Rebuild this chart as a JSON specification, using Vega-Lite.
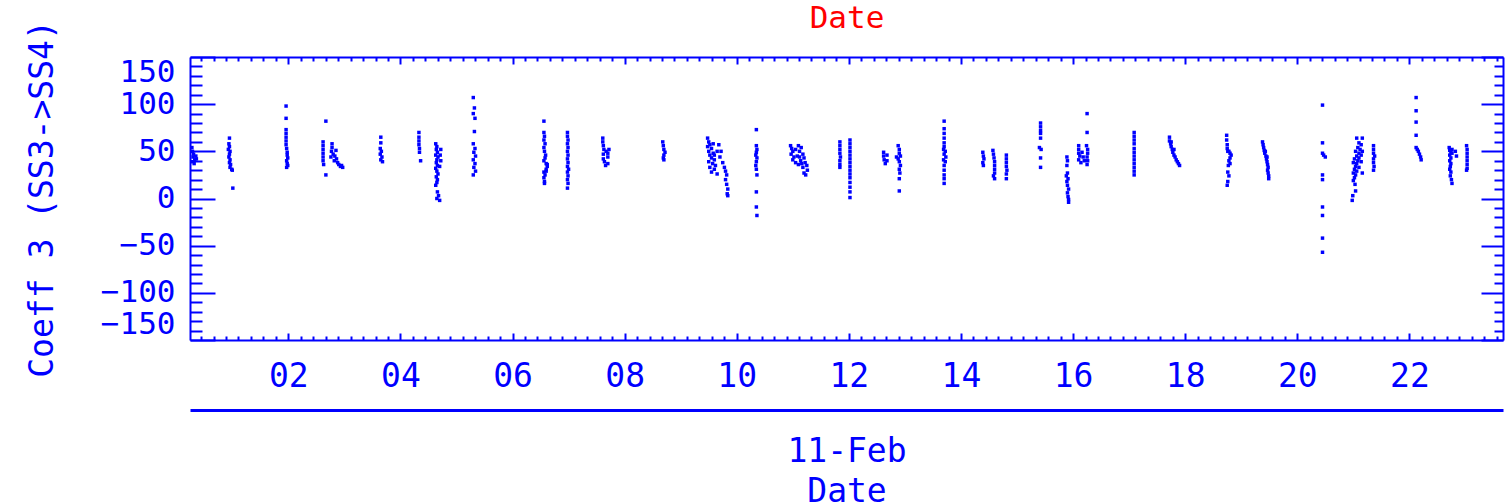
{
"$schema": "https://vega.github.io/schema/vega-lite/v6.json",
"autosize": "none",
"padding": {"left": 190, "top": 57, "right": 3, "bottom": 163},
"width": 1313,
"height": 283,
"datasets": {"pts": [
{"h":0.28,"v":54},{"h":0.29,"v":50},{"h":0.31,"v":47},{"h":0.30,"v":44},{"h":0.33,"v":41},{"h":0.29,"v":39},{"h":0.35,"v":45},{"h":0.36,"v":42},{"h":0.32,"v":37},
{"h":0.95,"v":64},{"h":0.94,"v":58},{"h":0.95,"v":55},{"h":0.93,"v":52},{"h":0.96,"v":50},{"h":0.95,"v":47},{"h":0.94,"v":44},{"h":0.96,"v":41},{"h":0.95,"v":38},{"h":0.97,"v":36},{"h":0.96,"v":33},{"h":0.99,"v":31},{"h":1.00,"v":30},{"h":1.01,"v":11},
{"h":1.96,"v":98},{"h":1.96,"v":85},{"h":1.96,"v":73},{"h":1.96,"v":69},{"h":1.96,"v":65},{"h":1.96,"v":61},{"h":1.96,"v":57},{"h":1.97,"v":53},{"h":1.98,"v":49},{"h":1.98,"v":46},{"h":1.99,"v":43},{"h":1.97,"v":40},{"h":1.98,"v":37},{"h":1.99,"v":35},{"h":1.97,"v":33},
{"h":2.67,"v":82},{"h":2.62,"v":60},{"h":2.62,"v":56},{"h":2.62,"v":52},{"h":2.62,"v":48},{"h":2.62,"v":44},{"h":2.62,"v":40},{"h":2.63,"v":36},{"h":2.78,"v":58},{"h":2.78,"v":54},{"h":2.77,"v":50},{"h":2.80,"v":47},{"h":2.83,"v":45},{"h":2.86,"v":42},{"h":2.82,"v":40},{"h":2.88,"v":38},{"h":2.90,"v":36},{"h":2.93,"v":34},{"h":2.95,"v":35},{"h":2.97,"v":33},{"h":2.76,"v":44},{"h":2.85,"v":51},{"h":2.67,"v":25},
{"h":3.65,"v":65},{"h":3.65,"v":59},{"h":3.64,"v":53},{"h":3.66,"v":50},{"h":3.64,"v":47},{"h":3.67,"v":44},{"h":3.65,"v":41},{"h":3.68,"v":39},
{"h":4.33,"v":70},{"h":4.33,"v":65},{"h":4.33,"v":61},{"h":4.33,"v":57},{"h":4.34,"v":53},{"h":4.34,"v":49},{"h":4.36,"v":40},
{"h":4.63,"v":58},{"h":4.65,"v":55},{"h":4.64,"v":52},{"h":4.66,"v":49},{"h":4.63,"v":46},{"h":4.67,"v":44},{"h":4.65,"v":41},{"h":4.64,"v":38},{"h":4.66,"v":35},{"h":4.63,"v":32},{"h":4.65,"v":29},{"h":4.67,"v":26},{"h":4.64,"v":23},{"h":4.66,"v":20},{"h":4.65,"v":17},{"h":4.63,"v":14},{"h":4.66,"v":7},{"h":4.68,"v":3},{"h":4.65,"v":0},{"h":4.70,"v":-2},{"h":4.72,"v":52},{"h":4.71,"v":46},{"h":4.72,"v":40},{"h":4.70,"v":34},
{"h":5.30,"v":107},{"h":5.32,"v":96},{"h":5.30,"v":90},{"h":5.33,"v":85},{"h":5.32,"v":71},{"h":5.30,"v":58},{"h":5.33,"v":53},{"h":5.31,"v":49},{"h":5.34,"v":45},{"h":5.30,"v":41},{"h":5.33,"v":37},{"h":5.31,"v":33},{"h":5.34,"v":29},{"h":5.30,"v":25},
{"h":6.56,"v":82},{"h":6.56,"v":70},{"h":6.57,"v":66},{"h":6.56,"v":62},{"h":6.58,"v":58},{"h":6.56,"v":54},{"h":6.57,"v":50},{"h":6.59,"v":46},{"h":6.58,"v":43},{"h":6.56,"v":40},{"h":6.60,"v":37},{"h":6.62,"v":34},{"h":6.60,"v":31},{"h":6.56,"v":28},{"h":6.58,"v":25},{"h":6.56,"v":22},{"h":6.57,"v":18},{"h":6.60,"v":29},{"h":6.62,"v":36},{"h":6.57,"v":16},
{"h":6.98,"v":70},{"h":6.98,"v":66},{"h":6.99,"v":62},{"h":6.98,"v":58},{"h":6.99,"v":54},{"h":6.98,"v":50},{"h":6.99,"v":46},{"h":6.98,"v":42},{"h":6.99,"v":38},{"h":6.98,"v":34},{"h":7.00,"v":31},{"h":6.98,"v":28},{"h":6.99,"v":24},{"h":6.98,"v":20},{"h":6.99,"v":16},{"h":6.98,"v":11},
{"h":7.61,"v":64},{"h":7.61,"v":60},{"h":7.62,"v":56},{"h":7.63,"v":52},{"h":7.67,"v":50},{"h":7.70,"v":48},{"h":7.72,"v":52},{"h":7.70,"v":44},{"h":7.62,"v":47},{"h":7.62,"v":42},{"h":7.64,"v":39},{"h":7.66,"v":35},{"h":7.70,"v":37},
{"h":8.68,"v":60},{"h":8.69,"v":56},{"h":8.70,"v":52},{"h":8.72,"v":49},{"h":8.70,"v":46},{"h":8.69,"v":43},{"h":8.70,"v":41},
{"h":9.48,"v":64},{"h":9.50,"v":60},{"h":9.52,"v":57},{"h":9.48,"v":55},{"h":9.55,"v":53},{"h":9.50,"v":50},{"h":9.58,"v":48},{"h":9.52,"v":46},{"h":9.55,"v":43},{"h":9.60,"v":41},{"h":9.50,"v":39},{"h":9.57,"v":37},{"h":9.62,"v":35},{"h":9.52,"v":33},{"h":9.60,"v":31},{"h":9.55,"v":28},{"h":9.65,"v":26},{"h":9.68,"v":57},{"h":9.72,"v":50},{"h":9.70,"v":44},{"h":9.75,"v":38},{"h":9.78,"v":33},{"h":9.80,"v":29},{"h":9.82,"v":25},{"h":9.80,"v":20},{"h":9.82,"v":15},{"h":9.84,"v":10},{"h":9.83,"v":5},{"h":9.84,"v":3},{"h":9.60,"v":46},{"h":9.65,"v":50},{"h":9.58,"v":58},
{"h":10.35,"v":73},{"h":10.35,"v":56},{"h":10.36,"v":52},{"h":10.35,"v":49},{"h":10.34,"v":46},{"h":10.36,"v":43},{"h":10.35,"v":39},{"h":10.34,"v":35},{"h":10.35,"v":31},{"h":10.36,"v":25},{"h":10.35,"v":7},{"h":10.35,"v":-9},{"h":10.36,"v":-18},
{"h":10.96,"v":56},{"h":10.98,"v":53},{"h":11.00,"v":50},{"h":10.97,"v":47},{"h":11.02,"v":44},{"h":11.05,"v":52},{"h":11.10,"v":56},{"h":11.15,"v":54},{"h":11.12,"v":50},{"h":11.18,"v":47},{"h":11.08,"v":45},{"h":11.20,"v":43},{"h":11.14,"v":40},{"h":11.22,"v":38},{"h":11.10,"v":36},{"h":11.25,"v":35},{"h":11.18,"v":33},{"h":11.26,"v":30},{"h":11.20,"v":27},{"h":11.23,"v":25},{"h":11.00,"v":41},{"h":11.05,"v":38},{"h":11.12,"v":44},{"h":11.16,"v":37},
{"h":11.84,"v":60},{"h":11.84,"v":56},{"h":11.84,"v":52},{"h":11.84,"v":48},{"h":11.85,"v":44},{"h":11.84,"v":40},{"h":11.84,"v":36},{"h":11.84,"v":33},{"h":12.02,"v":62},{"h":12.02,"v":58},{"h":12.02,"v":54},{"h":12.02,"v":50},{"h":12.02,"v":46},{"h":12.02,"v":42},{"h":12.02,"v":38},{"h":12.02,"v":34},{"h":12.02,"v":30},{"h":12.02,"v":26},{"h":12.02,"v":22},{"h":12.02,"v":17},{"h":12.02,"v":12},{"h":12.02,"v":7},{"h":12.02,"v":1},
{"h":12.62,"v":49},{"h":12.62,"v":45},{"h":12.63,"v":41},{"h":12.65,"v":37},{"h":12.68,"v":46},{"h":12.68,"v":40},{"h":12.88,"v":56},{"h":12.90,"v":52},{"h":12.90,"v":48},{"h":12.92,"v":45},{"h":12.88,"v":42},{"h":12.90,"v":39},{"h":12.92,"v":35},{"h":12.90,"v":31},{"h":12.91,"v":27},{"h":12.90,"v":21},{"h":12.90,"v":8},{"h":12.85,"v":44},
{"h":13.70,"v":82},{"h":13.70,"v":74},{"h":13.70,"v":69},{"h":13.70,"v":64},{"h":13.70,"v":59},{"h":13.70,"v":55},{"h":13.69,"v":52},{"h":13.72,"v":50},{"h":13.70,"v":47},{"h":13.73,"v":44},{"h":13.69,"v":41},{"h":13.72,"v":39},{"h":13.70,"v":35},{"h":13.70,"v":30},{"h":13.70,"v":25},{"h":13.70,"v":21},{"h":13.70,"v":16},
{"h":14.39,"v":49},{"h":14.40,"v":45},{"h":14.41,"v":42},{"h":14.39,"v":38},{"h":14.40,"v":35},{"h":14.57,"v":51},{"h":14.58,"v":47},{"h":14.59,"v":43},{"h":14.60,"v":39},{"h":14.60,"v":35},{"h":14.60,"v":31},{"h":14.60,"v":27},{"h":14.58,"v":24},{"h":14.60,"v":21},{"h":14.81,"v":46},{"h":14.81,"v":42},{"h":14.81,"v":38},{"h":14.81,"v":34},{"h":14.82,"v":30},{"h":14.81,"v":26},{"h":14.81,"v":21},
{"h":15.42,"v":80},{"h":15.42,"v":76},{"h":15.42,"v":72},{"h":15.42,"v":69},{"h":15.42,"v":64},{"h":15.40,"v":54},{"h":15.43,"v":52},{"h":15.42,"v":43},{"h":15.42,"v":33},
{"h":15.89,"v":44},{"h":15.90,"v":40},{"h":15.89,"v":35},{"h":15.90,"v":27},{"h":15.88,"v":24},{"h":15.91,"v":21},{"h":15.89,"v":18},{"h":15.90,"v":14},{"h":15.92,"v":10},{"h":15.90,"v":6},{"h":15.91,"v":2},{"h":15.92,"v":-1},{"h":15.92,"v":-4},
{"h":16.25,"v":90},{"h":16.25,"v":70},{"h":16.10,"v":56},{"h":16.10,"v":52},{"h":16.10,"v":48},{"h":16.12,"v":45},{"h":16.10,"v":41},{"h":16.14,"v":38},{"h":16.18,"v":44},{"h":16.20,"v":40},{"h":16.16,"v":49},{"h":16.24,"v":56},{"h":16.26,"v":52},{"h":16.26,"v":48},{"h":16.25,"v":44},{"h":16.26,"v":40},{"h":16.25,"v":36},
{"h":17.09,"v":70},{"h":17.09,"v":66},{"h":17.09,"v":62},{"h":17.09,"v":58},{"h":17.09,"v":53},{"h":17.09,"v":49},{"h":17.09,"v":45},{"h":17.09,"v":41},{"h":17.09,"v":37},{"h":17.09,"v":33},{"h":17.09,"v":29},{"h":17.09,"v":25},
{"h":17.72,"v":65},{"h":17.72,"v":61},{"h":17.74,"v":58},{"h":17.75,"v":55},{"h":17.77,"v":52},{"h":17.78,"v":49},{"h":17.80,"v":46},{"h":17.82,"v":44},{"h":17.84,"v":41},{"h":17.86,"v":39},{"h":17.88,"v":37},{"h":17.90,"v":35},{"h":17.75,"v":60},{"h":17.80,"v":52},
{"h":18.74,"v":67},{"h":18.74,"v":62},{"h":18.75,"v":57},{"h":18.75,"v":53},{"h":18.76,"v":50},{"h":18.78,"v":50},{"h":18.80,"v":48},{"h":18.82,"v":46},{"h":18.80,"v":43},{"h":18.78,"v":40},{"h":18.80,"v":37},{"h":18.77,"v":35},{"h":18.76,"v":28},{"h":18.78,"v":24},{"h":18.76,"v":18},{"h":18.75,"v":14},
{"h":19.38,"v":60},{"h":19.39,"v":57},{"h":19.40,"v":54},{"h":19.41,"v":51},{"h":19.42,"v":48},{"h":19.44,"v":45},{"h":19.45,"v":42},{"h":19.46,"v":39},{"h":19.47,"v":36},{"h":19.48,"v":33},{"h":19.47,"v":30},{"h":19.48,"v":27},{"h":19.49,"v":24},{"h":19.49,"v":21},{"h":19.43,"v":50},{"h":19.46,"v":44},
{"h":20.45,"v":99},{"h":20.45,"v":59},{"h":20.45,"v":48},{"h":20.47,"v":46},{"h":20.50,"v":44},{"h":20.45,"v":25},{"h":20.45,"v":20},{"h":20.45,"v":-9},{"h":20.45,"v":-18},{"h":20.45,"v":-42},{"h":20.45,"v":-57},
{"h":21.06,"v":64},{"h":21.16,"v":64},{"h":21.10,"v":59},{"h":21.14,"v":57},{"h":21.08,"v":54},{"h":21.12,"v":52},{"h":21.16,"v":50},{"h":21.04,"v":50},{"h":21.10,"v":48},{"h":21.14,"v":46},{"h":21.06,"v":45},{"h":21.10,"v":43},{"h":21.02,"v":42},{"h":21.08,"v":40},{"h":21.14,"v":39},{"h":21.00,"v":38},{"h":21.06,"v":37},{"h":21.04,"v":34},{"h":21.10,"v":33},{"h":21.02,"v":31},{"h":21.06,"v":29},{"h":21.00,"v":27},{"h":21.04,"v":25},{"h":21.16,"v":27},{"h":21.02,"v":22},{"h":21.00,"v":19},{"h":21.03,"v":15},{"h":21.04,"v":8},{"h":20.99,"v":3},{"h":20.98,"v":-2},
{"h":21.36,"v":56},{"h":21.36,"v":52},{"h":21.36,"v":48},{"h":21.38,"v":45},{"h":21.36,"v":42},{"h":21.36,"v":38},{"h":21.37,"v":34},{"h":21.36,"v":30},
{"h":22.12,"v":107},{"h":22.12,"v":93},{"h":22.12,"v":81},{"h":22.12,"v":67},{"h":22.12,"v":54},{"h":22.14,"v":52},{"h":22.16,"v":50},{"h":22.18,"v":47},{"h":22.20,"v":44},{"h":22.21,"v":41},
{"h":22.71,"v":54},{"h":22.72,"v":51},{"h":22.74,"v":49},{"h":22.72,"v":46},{"h":22.76,"v":52},{"h":22.76,"v":48},{"h":22.74,"v":43},{"h":22.72,"v":40},{"h":22.74,"v":37},{"h":22.73,"v":34},{"h":22.72,"v":31},{"h":22.74,"v":28},{"h":22.73,"v":24},{"h":22.75,"v":20},{"h":22.76,"v":16},{"h":22.82,"v":50},{"h":22.84,"v":45},
{"h":23.02,"v":56},{"h":23.03,"v":52},{"h":23.03,"v":48},{"h":23.03,"v":44},{"h":23.03,"v":40},{"h":23.03,"v":36},{"h":23.03,"v":32},{"h":23.02,"v":30}
]},
"data": {"name": "pts"},
"resolve": {"axis": {"x": "independent", "y": "independent"}},
"layer": [
{
"mark": {"type": "square", "filled": true, "size": 12, "color": "#0000ff", "opacity": 1},
"encoding": {
"x": {"field": "h", "type": "quantitative", "scale": {"domain": [0.246, 23.67], "nice": false, "zero": false},
"axis": {"orient": "bottom", "values": [2,4,6,8,10,12,14,16,18,20,22], "format": "02d", "ticks": false, "domain": true, "labelPadding": 20, "labelFlush": false, "labelOverlap": false, "title": null}},
"y": {"field": "v", "type": "quantitative", "scale": {"domain": [-150, 150], "nice": false, "zero": false},
"axis": {"orient": "left", "values": [-150,-100,-50,0,50,100,150], "ticks": false, "domain": true, "labelFlush": true, "labelOverlap": false, "labelFontSize": 31, "labelPadding": 15, "title": "Coeff 3 (SS3->SS4)", "titlePadding": 41}}
}
},
{
"mark": {"type": "point", "opacity": 0},
"encoding": {
"x": {"field": "h", "type": "quantitative", "scale": {"domain": [0.246, 23.67], "nice": false, "zero": false},
"axis": {"orient": "bottom", "values": [2,4,6,8,10,12,14,16,18,20,22], "tickSize": -7, "labels": false, "domain": false, "title": null}},
"y": {"field": "v", "type": "quantitative", "scale": {"domain": [-150, 150], "nice": false, "zero": false},
"axis": {"orient": "left", "values": [-150,-100,-50,0,50,100,150], "tickSize": -25, "labels": false, "domain": false, "title": null}}
}
},
{
"mark": {"type": "point", "opacity": 0},
"encoding": {
"x": {"field": "h", "type": "quantitative", "scale": {"domain": [0.246, 23.67], "nice": false, "zero": false},
"axis": {"orient": "bottom", "values": [0.4444,0.6667,0.8889,1.1111,1.3333,1.5556,1.7778,2.2222,2.4444,2.6667,2.8889,3.1111,3.3333,3.5556,3.7778,4.2222,4.4444,4.6667,4.8889,5.1111,5.3333,5.5556,5.7778,6.2222,6.4444,6.6667,6.8889,7.1111,7.3333,7.5556,7.7778,8.2222,8.4444,8.6667,8.8889,9.1111,9.3333,9.5556,9.7778,10.2222,10.4444,10.6667,10.8889,11.1111,11.3333,11.5556,11.7778,12.2222,12.4444,12.6667,12.8889,13.1111,13.3333,13.5556,13.7778,14.2222,14.4444,14.6667,14.8889,15.1111,15.3333,15.5556,15.7778,16.2222,16.4444,16.6667,16.8889,17.1111,17.3333,17.5556,17.7778,18.2222,18.4444,18.6667,18.8889,19.1111,19.3333,19.5556,19.7778,20.2222,20.4444,20.6667,20.8889,21.1111,21.3333,21.5556,21.7778,22.2222,22.4444,22.6667,22.8889,23.1111,23.3333,23.5556], "tickSize": -4, "labels": false, "domain": false, "title": null}},
"y": {"field": "v", "type": "quantitative", "scale": {"domain": [-150, 150], "nice": false, "zero": false},
"axis": {"orient": "left", "values": [-140,-130,-120,-110,-90,-80,-70,-60,-40,-30,-20,-10,10,20,30,40,60,70,80,90,110,120,130,140], "tickSize": -12, "labels": false, "domain": false, "title": null}}
}
},
{
"mark": {"type": "point", "opacity": 0},
"encoding": {
"x": {"field": "h", "type": "quantitative", "scale": {"domain": [0.246, 23.67], "nice": false, "zero": false},
"axis": {"orient": "top", "values": [2,4,6,8,10,12,14,16,18,20,22], "tickSize": -7, "labels": false, "domain": true, "title": "Date", "titleColor": "#ff0000", "titleFontSize": 31, "titleBaseline": "alphabetic", "titlePadding": 29}},
"y": {"field": "v", "type": "quantitative", "scale": {"domain": [-150, 150], "nice": false, "zero": false},
"axis": {"orient": "right", "values": [-150,-100,-50,0,50,100,150], "tickSize": -22, "labels": false, "domain": true, "title": null}}
}
},
{
"mark": {"type": "point", "opacity": 0},
"encoding": {
"x": {"field": "h", "type": "quantitative", "scale": {"domain": [0.246, 23.67], "nice": false, "zero": false},
"axis": {"orient": "top", "values": [0.4444,0.6667,0.8889,1.1111,1.3333,1.5556,1.7778,2.2222,2.4444,2.6667,2.8889,3.1111,3.3333,3.5556,3.7778,4.2222,4.4444,4.6667,4.8889,5.1111,5.3333,5.5556,5.7778,6.2222,6.4444,6.6667,6.8889,7.1111,7.3333,7.5556,7.7778,8.2222,8.4444,8.6667,8.8889,9.1111,9.3333,9.5556,9.7778,10.2222,10.4444,10.6667,10.8889,11.1111,11.3333,11.5556,11.7778,12.2222,12.4444,12.6667,12.8889,13.1111,13.3333,13.5556,13.7778,14.2222,14.4444,14.6667,14.8889,15.1111,15.3333,15.5556,15.7778,16.2222,16.4444,16.6667,16.8889,17.1111,17.3333,17.5556,17.7778,18.2222,18.4444,18.6667,18.8889,19.1111,19.3333,19.5556,19.7778,20.2222,20.4444,20.6667,20.8889,21.1111,21.3333,21.5556,21.7778,22.2222,22.4444,22.6667,22.8889,23.1111,23.3333,23.5556], "tickSize": -4, "labels": false, "domain": false, "title": null}},
"y": {"field": "v", "type": "quantitative", "scale": {"domain": [-150, 150], "nice": false, "zero": false},
"axis": {"orient": "right", "values": [-140,-130,-120,-110,-90,-80,-70,-60,-40,-30,-20,-10,10,20,30,40,60,70,80,90,110,120,130,140], "tickSize": -9, "labels": false, "domain": false, "title": null}}
}
},
{
"mark": {"type": "point", "opacity": 0},
"encoding": {
"x": {"field": "h", "type": "quantitative", "scale": {"domain": [0.246, 23.67], "nice": false, "zero": false},
"axis": {"orient": "bottom", "offset": 70, "ticks": false, "labels": false, "domain": true, "domainWidth": 3, "title": ["11-Feb", "Date"], "titlePadding": 25, "titleLineHeight": 40}},
"y": {"field": "v", "type": "quantitative", "scale": {"domain": [-150, 150], "nice": false, "zero": false}, "axis": null}
}
}
],
"config": {
"font": "DejaVu Sans Mono",
"view": {"stroke": null},
"axis": {"grid": false, "domainColor": "#0000ff", "domainWidth": 2, "tickColor": "#0000ff", "tickWidth": 2, "labelColor": "#0000ff", "labelFont": "DejaVu Sans Mono", "labelFontSize": 33, "titleColor": "#0000ff", "titleFont": "DejaVu Sans Mono", "titleFontSize": 33, "titleFontWeight": "normal"}
}
}
